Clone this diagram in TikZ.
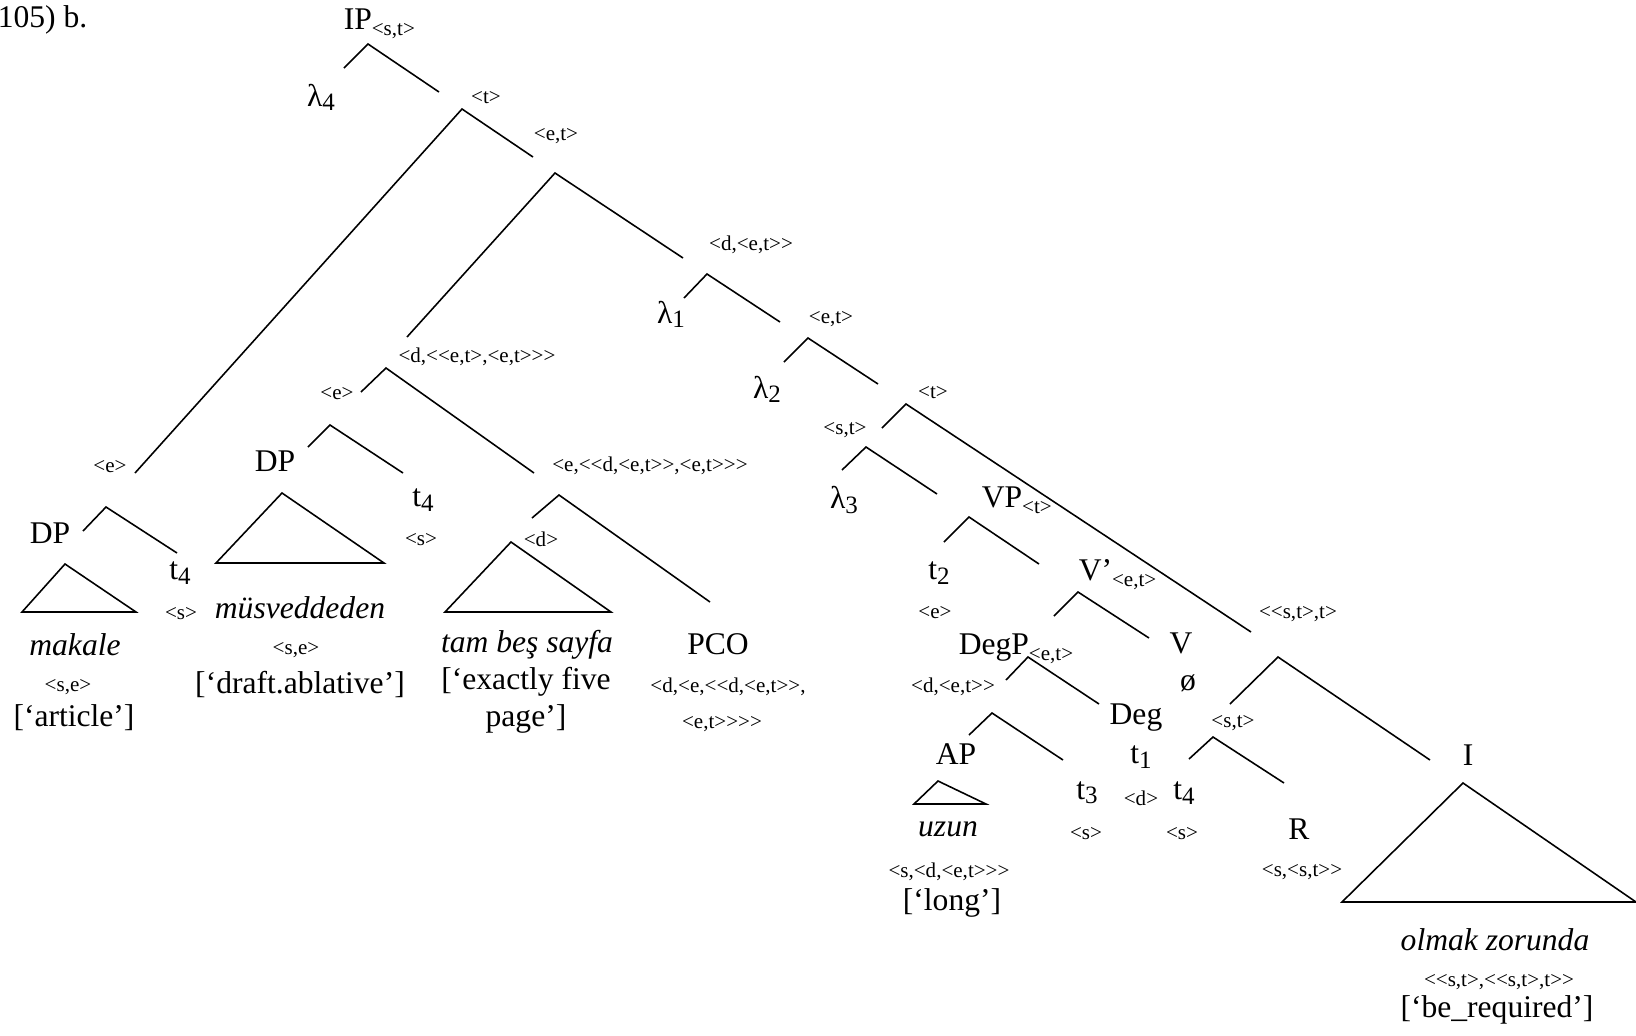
\documentclass[tikz,border=0pt]{standalone}
\usepackage{fontspec}
\setmainfont{Liberation Serif}
\newcommand{\tyfont}{\fontsize{8}{9.6}\selectfont}
\newcommand{\nk}{\kern0pt}
\newcommand{\idx}[1]{\raisebox{-1.6pt}{\fontsize{9.5}{10}\selectfont #1}}

\begin{document}
\begin{tikzpicture}[x=0.38pt, y=-0.38pt, line width=0.6pt,
  cat/.style={font=\fontsize{12}{14}\selectfont, inner sep=0pt},
  word/.style={font=\fontsize{12}{14}\selectfont\itshape, inner sep=0pt},
  ty/.style={font=\tyfont, inner sep=0pt}]
  \useasboundingbox (0,0) rectangle (1636,1035);

  % top of the tree
  \node[cat, anchor=west] (ex) at (-3,20) {105) b.};
  \node[cat, anchor=base west] (ip) at (343,29) {IP\raisebox{-2.5pt}{\tyfont <s,t>}};
  \node[cat] (lam4) at (321,97) {λ\idx{4}};
  \node[ty] (t0) at (486,98) {<t>};
  \node[ty] (et0) at (556,136) {<e,t>};
  \node[ty] (det0) at (751,245) {<d,<e,t>\nk>};
  \node[cat] (lam1) at (671,314) {λ\idx{1}};
  \node[ty] (et1) at (831,319) {<e,t>};
  \node[cat] (lam2) at (767,389) {λ\idx{2}};
  \node[ty] (t1) at (933,393) {<t>};
  \node[ty] (st0) at (845,430) {<s,t>};
  \node[cat] (lam3) at (844,500) {λ\idx{3}};

  \draw (344,68) -- (368,44) -- (439,92);
  \draw (135,473) -- (462,109) -- (533,157);
  \draw (407,337) -- (555,173) -- (683,258);
  \draw (684,298) -- (707,274) -- (780,322);
  \draw (784,362) -- (808,338) -- (878,384);
  \draw (882,428) -- (906,404) -- (1251,632);
  \draw (842,470) -- (866,447) -- (937,494);

  % left: makale
  \node[ty] (e1) at (110,467) {<e>};
  \node[cat] (dp0) at (50,533) {DP};
  \node[cat] (tr0) at (180,573) {t\idx{4}};
  \node[ty] (s0) at (181,614) {<s>};
  \node[word] (w0) at (75,645) {makale};
  \node[ty] (se0) at (68,687) {<s,e>};
  \node[cat] (g0) at (74,718) {[‘article’]};
  \draw (83,531) -- (106,507) -- (177,553);
  \draw (22,612) -- (65,564) -- (136,612) -- cycle;

  % middle: müsveddeden, tam beş sayfa, PCO
  \node[ty] (dq) at (477,357) {<d,<\nk<e,t>,<e,t>\nk>\nk>};
  \node[ty] (e0) at (337,394) {<e>};
  \node[cat] (dp1) at (275,461) {DP};
  \node[cat] (tr1) at (423,500) {t\idx{4}};
  \node[ty] (s1) at (421,540) {<s>};
  \node[word] (w1) at (300,608) {müsveddeden};
  \node[ty] (se1) at (296,650) {<s,e>};
  \node[cat] (g1) at (300,684) {[‘draft.ablative’]};
  \node[ty] (eq) at (650,466) {<e,<\nk<d,<e,t>\nk>,<e,t>\nk>\nk>};
  \node[ty] (d0) at (541,539) {<d>};
  \node[word] (w2) at (527,645) {tam beş sayfa};
  \node[cat, align=center] (g2) at (526,700) {[‘exactly five\\page’]};
  \node[cat] (pco) at (718,644) {PCO};
  \node[ty] (pt0) at (728,687) {<d,<e,<\nk<d,<e,t>\nk>,};
  \node[ty] (pt1) at (722,724) {<e,t>\nk>\nk>\nk>};
  \draw (361,392) -- (386,368) -- (534,473);
  \draw (308,447) -- (330,425) -- (403,473);
  \draw (532,518) -- (559,495) -- (710,602);
  \draw (216,563) -- (282,493) -- (384,563) -- cycle;
  \draw (445,612) -- (511,542) -- (611,612) -- cycle;

  % right: VP
  \node[cat, anchor=base west] (vp) at (981,507) {VP\raisebox{-2.5pt}{\tyfont <t>}};
  \node[cat] (tr2) at (939,573) {t\idx{2}};
  \node[ty] (e2) at (935,613) {<e>};
  \node[cat, anchor=base west] (vbar) at (1078,580) {V’\raisebox{-2.5pt}{\tyfont <e,t>}};
  \node[cat, anchor=base west] (degp) at (958,654) {DegP\raisebox{-2.5pt}{\tyfont <e,t>}};
  \node[ty] (det1) at (953,687) {<d,<e,t>\nk>};
  \node[cat] (v) at (1181,643) {V};
  \node[cat] (zero) at (1188,683) {ø};
  \node[cat] (deg) at (1136,718) {Deg};
  \node[cat] (tr3) at (1141,757) {t\idx{1}};
  \node[ty] (d1) at (1141,798) {<d>};
  \node[cat] (ap) at (956,754) {AP};
  \node[word] (w3) at (948,829) {uzun};
  \node[ty] (sdet) at (949,872) {<s,<d,<e,t>\nk>\nk>};
  \node[cat] (g3) at (952,903) {[‘long’]};
  \node[cat] (tr4) at (1087,793) {t\idx{3}};
  \node[ty] (s2) at (1086,834) {<s>};
  \draw (944,542) -- (969,517) -- (1039,564);
  \draw (1054,616) -- (1078,592) -- (1149,638);
  \draw (1006,680) -- (1028,657) -- (1099,704);
  \draw (969,735) -- (992,713) -- (1063,760);
  \draw (914,804) -- (938,781) -- (986,804) -- cycle;

  % right: I
  \node[ty] (stt) at (1298,614) {<\nk<s,t>,t>};
  \node[ty] (st1) at (1233,723) {<s,t>};
  \node[cat] (tr5) at (1184,793) {t\idx{4}};
  \node[ty] (s3) at (1182,834) {<s>};
  \node[cat] (r) at (1299,829) {R};
  \node[ty] (sst) at (1302,872) {<s,<s,t>\nk>};
  \node[cat] (i) at (1468,755) {I};
  \node[word] (w4) at (1495,940) {olmak zorunda};
  \node[ty] (stst) at (1499,982) {<\nk<s,t>,<\nk<s,t>,t>\nk>};
  \node[cat] (g4) at (1497,1010) {[‘be\_required’]};
  \draw (1230,704) -- (1278,657) -- (1430,760);
  \draw (1189,759) -- (1213,737) -- (1284,783);
  \draw (1342,902) -- (1463,783) -- (1636,902) -- cycle;
\end{tikzpicture}
\end{document}
